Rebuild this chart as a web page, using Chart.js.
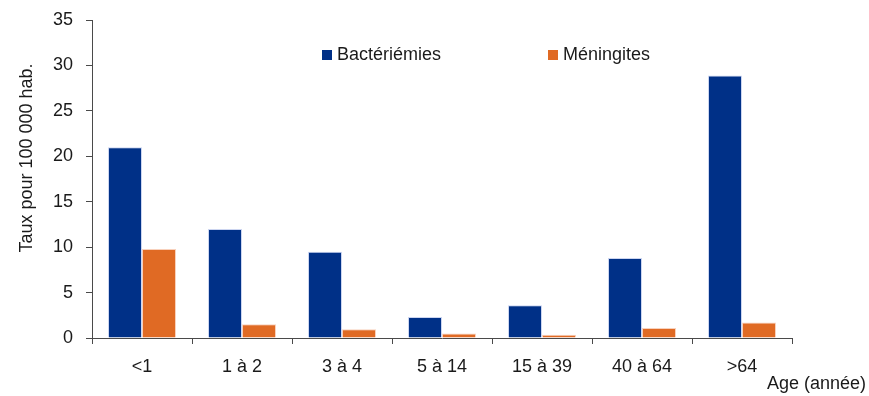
<!DOCTYPE html>
<html>
<head>
<meta charset="utf-8">
<script src="https://cdn.jsdelivr.net/npm/chart.js@4"></script>
<style>
  body { margin: 0; background: #fff; }
  canvas { display: block; }
</style>
</head>
<body>
<canvas id="chart" width="869" height="396"></canvas>
<script>
// Data
const ageGroups = ['<1', '1 à 2', '3 à 4', '5 à 14', '15 à 39', '40 à 64', '>64'];
const bacteriemies = [21.0, 12.0, 9.5, 2.3, 3.6, 8.8, 28.9];
const meningites = [9.8, 1.5, 0.95, 0.5, 0.35, 1.1, 1.7];
const yTicks = [0, 5, 10, 15, 20, 25, 30, 35];

const FONT = "'Liberation Sans', Arial, sans-serif";
const TEXT = '#1a1a1a';
const AXIS = '#4a4a4a';

// legend + axis titles drawn on the canvas
const annotations = {
    id: 'annotations',
    afterDraw(chart) {
        const c = chart.ctx;
        c.save();
        c.font = `18px ${FONT}`;
        c.fillStyle = TEXT;

        // legend
        const spots = [322, 548];
        chart.data.datasets.forEach((ds, i) => {
            const x = spots[i];
            c.fillStyle = ds.backgroundColor;
            c.fillRect(x, 50, 10, 10);
            c.fillStyle = TEXT;
            c.textAlign = 'left';
            c.textBaseline = 'middle';
            c.fillText(ds.label, x + 15, 55);
        });

        // x title
        c.textAlign = 'right';
        c.textBaseline = 'middle';
        c.fillText('Age (année)', 866, 384);

        // y title
        c.translate(27, 158);
        c.rotate(-Math.PI / 2);
        c.textAlign = 'center';
        c.fillText('Taux pour 100 000 hab.', 0, 0);
        c.restore();
    }
};

new Chart(document.getElementById('chart'), {
    type: 'bar',
    data: {
        labels: ageGroups,
        datasets: [
            { label: 'Bactériémies', data: bacteriemies, backgroundColor: '#003087', borderColor: 'rgba(170,185,230,0.6)', borderWidth: { top: 1, left: 1, right: 1, bottom: 0 } },
            { label: 'Méningites', data: meningites, backgroundColor: '#E06A24', borderColor: 'rgba(245,190,160,0.7)', borderWidth: { top: 1, left: 1, right: 1, bottom: 0 } }
        ]
    },
    options: {
        responsive: false,
        animation: false,
        datasets: { bar: { categoryPercentage: 0.68, barPercentage: 1.0 } },
        layout: { padding: { left: 0, right: 77, top: 20, bottom: 0 } },
        plugins: { legend: { display: false }, tooltip: { enabled: false } },
        scales: {
            x: {
                afterFit: s => { s.height = 58; s.paddingLeft = 0; s.paddingRight = 0; },
                grid: { offset: true, drawOnChartArea: false, drawTicks: true, tickLength: 6, color: AXIS },
                border: { display: true, color: AXIS, width: 1 },
                ticks: { color: TEXT, font: { family: FONT, size: 18 }, padding: 12, maxRotation: 0 }
            },
            y: {
                min: 0,
                max: 35,
                afterFit: s => { s.width = 92; s.paddingTop = 0; s.paddingBottom = 0; },
                afterBuildTicks: s => { s.ticks = yTicks.map(v => ({ value: v })); },
                grid: { drawOnChartArea: false, drawTicks: true, tickLength: 6, color: AXIS },
                border: { display: true, color: AXIS, width: 1 },
                ticks: { color: TEXT, font: { family: FONT, size: 18 }, padding: 13 }
            }
        }
    },
    plugins: [annotations]
});
</script>
</body>
</html>
